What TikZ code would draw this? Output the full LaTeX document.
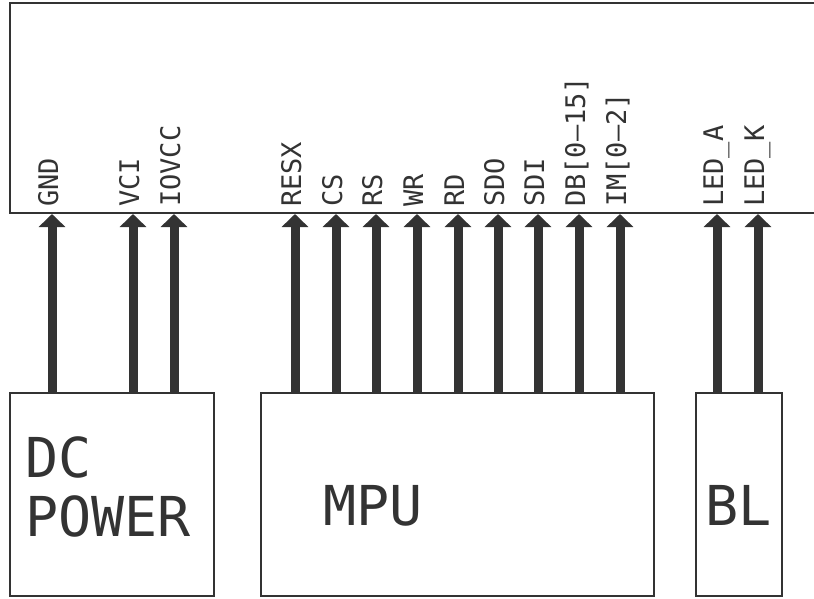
\documentclass[tikz,border=0pt]{standalone}
\usepackage{fontspec}
\setmainfont{DejaVu Sans Mono}
\usetikzlibrary{arrows.meta}
\definecolor{ink}{HTML}{333333}
\begin{document}
\begin{tikzpicture}[x=1pt,y=-1pt,
  box/.style={draw=ink, line width=2pt, inner sep=0pt, outer sep=0pt, anchor=north west},
  pinarrow/.style={draw=ink, line width=9pt, -{Triangle[width=26pt,length=13pt]}},
  pinlabel/.style={text=ink, font=\fontsize{27}{27}\selectfont, rotate=90, anchor=base west, inner sep=0pt},
  bigtext/.style={text=ink, font=\fontsize{55}{55}\selectfont, anchor=base west, inner sep=0pt}]
\useasboundingbox (0,0) rectangle (814,598);
% display module
\node[box, minimum width=830pt, minimum height=210pt] (lcd) at (10,3) {};
% sources
\node[box, minimum width=204pt, minimum height=203pt] (dc) at (10,393) {};
\node[box, minimum width=393pt, minimum height=203pt] (mpu) at (261,393) {};
\node[box, minimum width=86pt, minimum height=203pt] (bl) at (696,393) {};
\node[bigtext] (dctxt1) at (25,477) {DC};
\node[bigtext] (dctxt2) at (25,536) {POWER};
\node[bigtext] (mputxt) at (323,525) {MPU};
\node[bigtext] (bltxt) at (705,525) {BL};
% pins
\foreach \n/\x/\lab in {gnd/52/GND, vci/133/VCI, iovcc/174/IOVCC}{
  \coordinate (\n) at (\x,214);
  \node[pinlabel] (l\n) at (\x+6,207) {\lab};
  \draw[pinarrow] (\n |- dc.north) -- (\n);
}
\foreach \n/\x/\lab in {resx/295/RESX, cs/336/CS, rs/376/RS, wr/417/WR, rd/458/RD, sdo/498/SDO, sdi/538/SDI, db/579/{DB[0—15]}, im/620/{IM[0—2]}}{
  \coordinate (\n) at (\x,214);
  \node[pinlabel] (l\n) at (\x+6,207) {\lab};
  \draw[pinarrow] (\n |- mpu.north) -- (\n);
}
\foreach \n/\x/\lab in {leda/717/LED\_A, ledk/758/LED\_K}{
  \coordinate (\n) at (\x,214);
  \node[pinlabel] (l\n) at (\x+6,207) {\lab};
  \draw[pinarrow] (\n |- bl.north) -- (\n);
}
\end{tikzpicture}
\end{document}
